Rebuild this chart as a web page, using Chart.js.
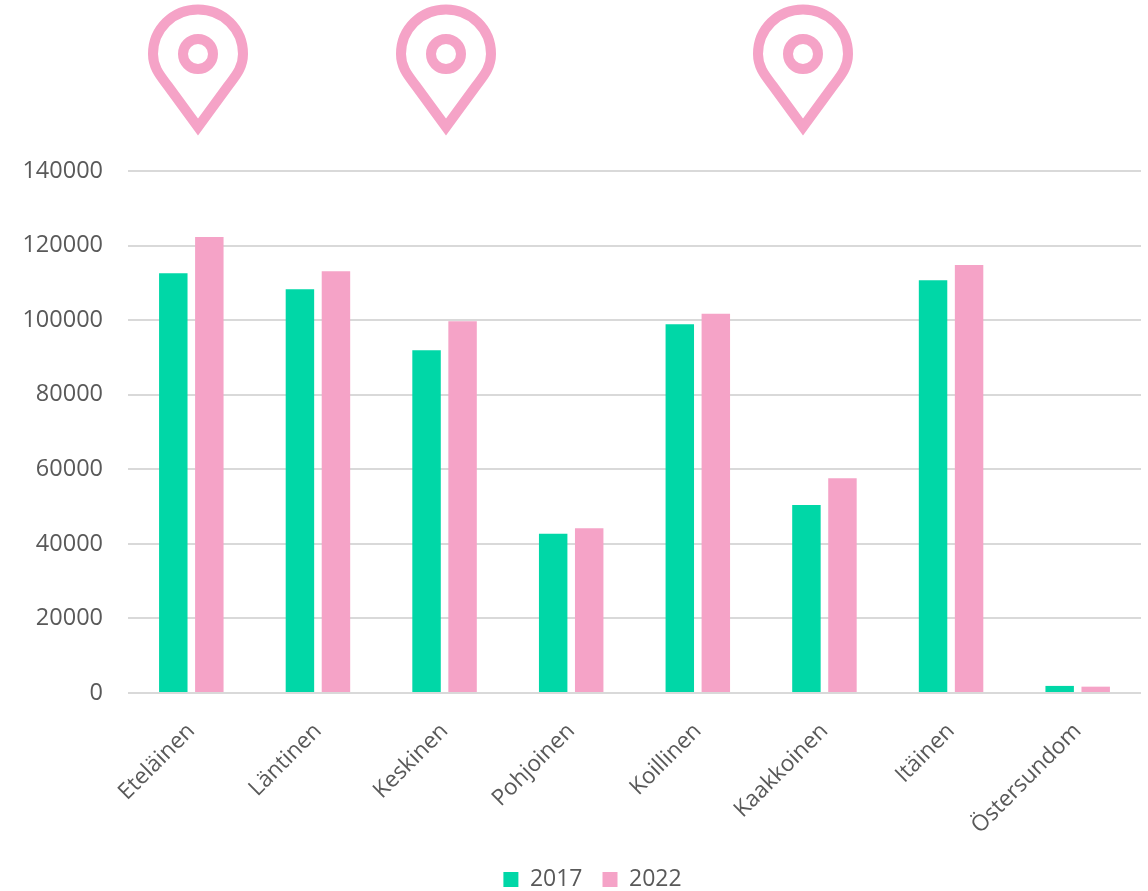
<!DOCTYPE html>
<html>
<head>
    <meta charset="utf-8">
    <title>Helsinki districts 2017 / 2022</title>
    <script src="https://cdn.jsdelivr.net/npm/chart.js"></script>
    <style>
        html, body { margin: 0; padding: 0; background: #fff; }
        canvas { display: block; }
    </style>
</head>
<body>
    <canvas id="districtChart" width="1148" height="891"></canvas>

    <script>
        const categories = ['Eteläinen', 'Läntinen', 'Keskinen', 'Pohjoinen', 'Koillinen', 'Kaakkoinen', 'Itäinen', 'Östersundom'];
        const values2017 = [112600, 108300, 91900, 42700, 98900, 50400, 110700, 1900];
        const values2022 = [122300, 113100, 99700, 44200, 101700, 57600, 114800, 1700];

        const GREEN = '#00D7A7';
        const PINK = '#F5A3C7';
        const TEXT = '#595959';
        const GRID = '#D9D9D9';
        const FONT = '"Open Sans", sans-serif';

        // Map pin decorations above the chart
        const pinOffsets = [0, 248, 605];
        const pinPlugin = {
            id: 'pins',
            // legend sits right of centre in the original
            afterLayout(chart) {
                chart.legend.left += 22;
                chart.legend.right += 22;
            },
            afterDraw(chart) {
                const ctx = chart.ctx;
                pinOffsets.forEach(dx => {
                    ctx.save();
                    ctx.translate(dx, 0);
                    ctx.strokeStyle = PINK;
                    ctx.lineWidth = 10;
                    ctx.lineJoin = 'miter';
                    ctx.miterLimit = 10;
                    ctx.beginPath();
                    ctx.moveTo(198, 127);
                    ctx.lineTo(168, 86);
                    ctx.bezierCurveTo(161, 76.5, 153, 68, 153, 54);
                    ctx.bezierCurveTo(153, 29, 173, 9.5, 198, 9.5);
                    ctx.bezierCurveTo(223, 9.5, 243, 29, 243, 54);
                    ctx.bezierCurveTo(243, 68, 235, 76.5, 228, 86);
                    ctx.closePath();
                    ctx.stroke();
                    ctx.beginPath();
                    ctx.arc(198, 54, 15, 0, Math.PI * 2);
                    ctx.stroke();
                    ctx.restore();
                });
            }
        };

        const ctx = document.getElementById('districtChart').getContext('2d');
        const chart = new Chart(ctx, {
            type: 'bar',
            data: {
                labels: categories,
                datasets: [
                    { label: '2017', data: values2017, backgroundColor: GREEN },
                    { label: '2022', data: values2022, backgroundColor: PINK }
                ]
            },
            options: {
                responsive: false,
                animation: false,
                categoryPercentage: 0.569,
                barPercentage: 0.79,
                layout: { padding: { top: 171, right: 7, left: 0, bottom: -10 } },
                plugins: {
                    tooltip: { enabled: false },
                    legend: {
                        position: 'bottom',
                        labels: {
                            color: TEXT,
                            font: { family: FONT, size: 23 },
                            boxWidth: 15,
                            boxHeight: 15,
                            padding: 20
                        }
                    }
                },
                scales: {
                    x: {
                        grid: { display: false },
                        border: { display: false },
                        afterFit(scale) { scale.height = 155; },
                        ticks: {
                            color: TEXT,
                            font: { family: FONT, size: 22.5 },
                            minRotation: 45,
                            maxRotation: 45,
                            autoSkip: false,
                            padding: 17
                        }
                    },
                    y: {
                        min: 0,
                        max: 140000,
                        afterFit(scale) { scale.width = 128; },
                        border: { display: false },
                        grid: { color: GRID, lineWidth: 2, drawTicks: false },
                        ticks: {
                            stepSize: 20000,
                            color: TEXT,
                            font: { family: FONT, size: 23.5 },
                            padding: 25,
                            callback: value => String(value)
                        }
                    }
                }
            },
            plugins: [pinPlugin]
        });
    </script>
</body>
</html>
